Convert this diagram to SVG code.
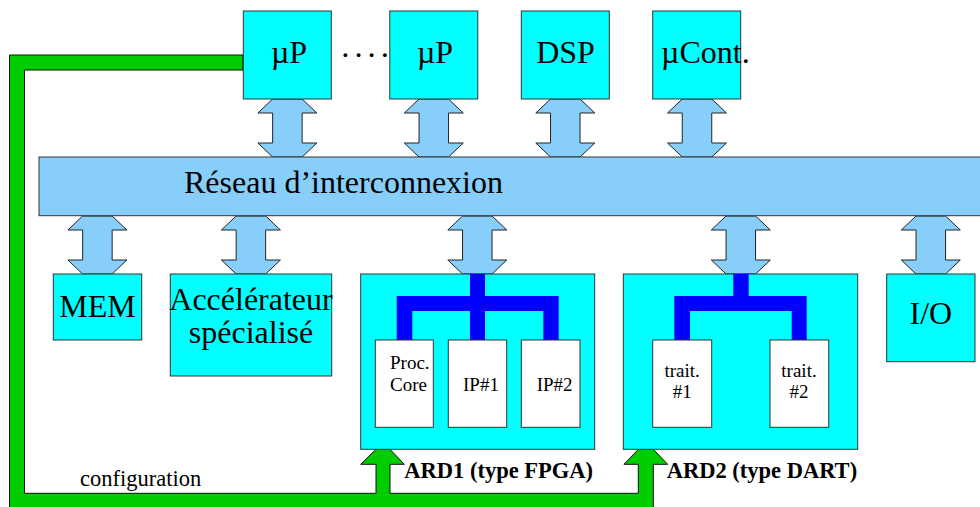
<svg xmlns="http://www.w3.org/2000/svg" xmlns:xlink="http://www.w3.org/1999/xlink" width="980" height="507" viewBox="0 0 980 507">
<style>
text{font-family:"Liberation Serif","Times New Roman",serif;fill:#000}
.big{font-size:32px}
.sm{font-size:19px}
.lbl{font-size:22.5px}
.bold{font-size:22.5px;font-weight:bold}
.box{fill:#00FFFF;stroke:#333;stroke-width:1}
.wbox{fill:#FFFFFF;stroke:#333;stroke-width:1}
.arr{fill:#87CEFA;stroke:#222;stroke-width:1}
.tree{fill:#0000FF}
.c{text-anchor:middle}
</style>
<defs>
<path id="dbl" class="arr" d="M -14.75 0 L 14.75 0 L 29.5 14 L 14.75 14 L 14.75 44 L 29.5 44 L 14.75 58 L -14.75 58 L -29.5 44 L -14.75 44 L -14.75 14 L -29.5 14 Z"/>
</defs>
<rect width="980" height="507" fill="#FFFFFF"/>
<g id="connectors">
<path d="M 243 55 L 9.5 55 L 9.5 512 L 653.3 512 L 653.3 464.3 L 667.7 464.3 L 653.3 449.3 L 638.3 449.3 L 624 464.3 L 638.3 464.3 L 638.3 493.3 L 390 493.3 L 390 464.3 L 404.3 464.3 L 390 449.3 L 376 449.3 L 360.7 464.3 L 376 464.3 L 376 493.3 L 24.5 493.3 L 24.5 70 L 243 70 Z" fill="#00CC00" stroke="#111" stroke-width="1"/>
<use href="#dbl" x="287.4" y="99"/>
<use href="#dbl" x="433.8" y="99"/>
<use href="#dbl" x="565.3" y="99"/>
<use href="#dbl" x="697" y="99"/>
<use href="#dbl" x="97.4" y="216"/>
<use href="#dbl" x="250.9" y="216"/>
<use href="#dbl" x="477.3" y="216"/>
<use href="#dbl" x="740.8" y="216"/>
<use href="#dbl" x="930.8" y="216"/>
</g>
<g id="bus">
<rect x="39" y="157" width="950" height="58.7" fill="#87CEFA" stroke="#333" stroke-width="1"/>
<text class="big" x="184" y="193">Réseau d’interconnexion</text>
</g>
<g id="up1">
<rect class="box" x="243.3" y="11" width="88" height="88"/>
<text class="big c" x="289" y="62.5">µP</text>
</g>
<text id="dots" class="big" x="340" y="66" style="letter-spacing:2.5px">····</text>
<g id="up2">
<rect class="box" x="389.8" y="11" width="88" height="88"/>
<text class="big c" x="435" y="62.5">µP</text>
</g>
<g id="dsp">
<rect class="box" x="521.3" y="11" width="88" height="88"/>
<text class="big c" x="565.5" y="62.5">DSP</text>
</g>
<g id="ucont">
<rect class="box" x="652.7" y="11" width="88" height="88"/>
<text class="big" x="661" y="62.5">µCont.</text>
</g>
<g id="mem">
<rect class="box" x="53.3" y="274" width="88.4" height="66"/>
<text class="big c" x="97.4" y="317">MEM</text>
</g>
<g id="accel">
<rect class="box" x="170.3" y="274" width="161.4" height="102"/>
<text class="big c" x="251" y="310">Accélérateur</text>
<text class="big c" x="251" y="342.7">spécialisé</text>
</g>
<g id="ard1">
<rect class="box" x="360.7" y="274" width="234" height="175.3"/>
<path class="tree" d="M 470 274 L 485 274 L 485 296 L 558.7 296 L 558.7 340 L 543.3 340 L 543.3 311 L 485 311 L 485 340 L 470 340 L 470 311 L 412.3 311 L 412.3 340 L 396.7 340 L 396.7 296 L 470 296 Z"/>
<rect class="wbox" x="375.3" y="340" width="58" height="87.3"/>
<rect class="wbox" x="448.3" y="340" width="58.4" height="87.3"/>
<rect class="wbox" x="521.3" y="340" width="58.7" height="87.3"/>
<text class="sm" x="390" y="369.3">Proc.</text>
<text class="sm" x="390" y="390.7">Core</text>
<text class="sm" x="463" y="390.7">IP#1</text>
<text class="sm" x="536.7" y="390.7">IP#2</text>
<text class="bold" x="404.3" y="478.3">ARD1 (type FPGA)</text>
</g>
<g id="ard2">
<rect class="box" x="623.3" y="274" width="234.4" height="175.3"/>
<path class="tree" d="M 733.3 274 L 748.7 274 L 748.7 296 L 806.7 296 L 806.7 340 L 791.7 340 L 791.7 311 L 690 311 L 690 340 L 674.3 340 L 674.3 296 L 733.3 296 Z"/>
<rect class="wbox" x="652.7" y="340" width="59" height="87.3"/>
<rect class="wbox" x="770" y="340" width="58.7" height="87.3"/>
<text class="sm c" x="682.2" y="376.7">trait.</text>
<text class="sm c" x="682.2" y="398.3">#1</text>
<text class="sm c" x="799" y="376.7">trait.</text>
<text class="sm c" x="799" y="398.3">#2</text>
<text class="bold" x="666.7" y="478.3">ARD2 (type DART)</text>
</g>
<g id="io">
<rect class="box" x="886.7" y="274" width="88.3" height="87.7"/>
<text class="big c" x="930.8" y="324">I/O</text>
</g>
<text id="config" class="lbl" x="80" y="485.5">configuration</text>
</svg>
